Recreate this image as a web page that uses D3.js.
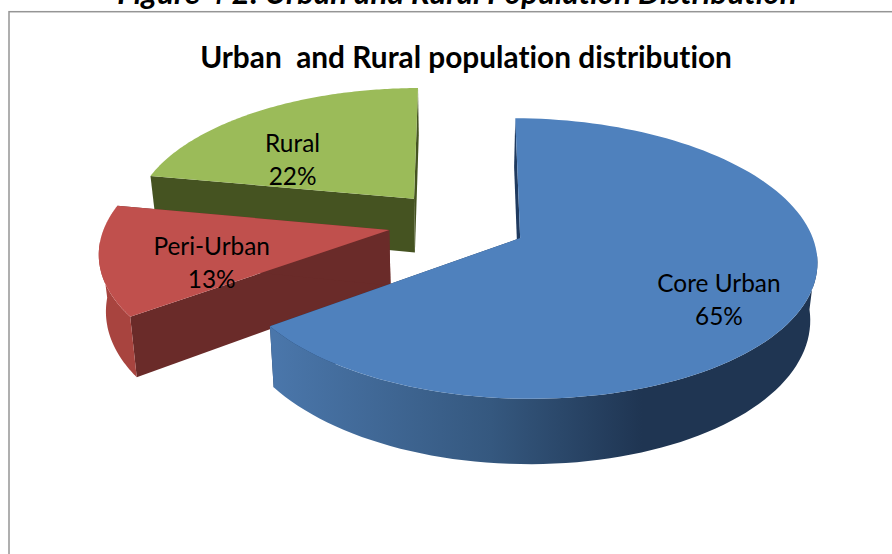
<!DOCTYPE html>
<html>
<head>
<meta charset="utf-8">
<script src="https://d3js.org/d3.v7.min.js"></script>
<style>
  html, body { margin: 0; padding: 0; background: #fff; overflow: hidden; }
  text { font-variant-ligatures: none; }
</style>
</head>
<body>
<div id="chart"></div>
<script>
// data
var categories = ["Core Urban", "Peri-Urban", "Rural"];
var shares = [65, 13, 22];

var colors = ["#4f81bd", "#c0504d", "#9bbb59"];
var edgeColors = ["#1f3a5f", "#6a2b29", "#455321"];
var rimColors = ["url(#blueRim)", "#a8443f", "#7a9346"];

var width = 892, height = 554;

// perspective disc: centre, radii, tilt, wall height, explosion
var cx = 457, cy = 223, rx = 288, ry = 133, tilt = 1 / 7, wall = 55, bottomScale = 0.98, explode = 0.243;
var leftSqueeze = 0.985;

var svg = d3
  .select("#chart")
  .append("svg")
  .attr("width", width)
  .attr("height", height);

var grad = svg
  .append("defs")
  .append("linearGradient")
  .attr("id", "blueRim")
  .attr("gradientUnits", "userSpaceOnUse")
  .attr("x1", 275).attr("x2", 815).attr("y1", 0).attr("y2", 0);
grad.append("stop").attr("offset", "0%").attr("stop-color", "#4a76aa");
grad.append("stop").attr("offset", "40%").attr("stop-color", "#35587f");
grad.append("stop").attr("offset", "68%").attr("stop-color", "#1f3552");
grad.append("stop").attr("offset", "100%").attr("stop-color", "#1f3552");

// chart frame
svg
  .append("rect")
  .attr("x", 9)
  .attr("y", 11.7)
  .attr("width", width + 20)
  .attr("height", height)
  .attr("fill", "#fff")
  .attr("stroke", "#959595")
  .attr("stroke-width", 1.5);

// caption, cut off by the top of the page
svg
  .append("text")
  .attr("x", 457)
  .attr("y", 4)
  .attr("text-anchor", "middle")
  .attr("font-family", "Lato")
  .attr("font-weight", "bold")
  .attr("font-style", "italic")
  .attr("font-size", 31.3)
  .text("Figure 4 2: Urban and Rural Population Distribution");

svg
  .append("text")
  .attr("x", 466)
  .attr("y", 67.5)
  .attr("text-anchor", "middle")
  .attr("font-family", "Lato")
  .attr("font-weight", "bold")
  .attr("font-size", 29.8)
  .style("white-space", "pre")
  .text("Urban  and Rural population distribution");

var pie = d3
  .pie()
  .sort(null)
  .startAngle((0.7 * Math.PI) / 180)
  .endAngle((359.7 * Math.PI) / 180);

var slices = pie(shares);

// disc point (radius r, angle a) of a slice, on the top or bottom plane
function project(d, r, a, low) {
  var mid = (d.startAngle + d.endAngle) / 2;
  var X = explode * Math.sin(mid) + r * Math.sin(a);
  var Y = explode * Math.cos(mid) + r * Math.cos(a);
  var s = 1 / (1 + tilt * Y);
  var px = rx * X * s, py = -ry * Y * s;
  if (px < 0) px *= leftSqueeze;
  if (low) return [cx + px * bottomScale, cy + py + wall * s];
  return [cx + px, cy + py];
}

function arcAngles(d) {
  return d3.range(0, 121).map(function (i) {
    return d.startAngle + ((d.endAngle - d.startAngle) * i) / 120;
  });
}

var line = d3.line();

// back to front: rural, peri-urban, core urban
[2, 1, 0].forEach(function (i) {
  var d = slices[i];
  var angles = arcAngles(d);
  var g = svg.append("g");

  [d.startAngle, d.endAngle].forEach(function (a) {
    g.append("path")
      .attr("d", line([project(d, 0, a), project(d, 1, a), project(d, 1, a, true), project(d, 0, a, true)]) + "Z")
      .attr("fill", edgeColors[i]);
  });

  // only the part of the rim that faces the viewer
  var front = angles.filter(function (a) { return Math.cos(a) < -0.08; });
  if (front.length > 1) {
    var rim = front
      .map(function (a) { return project(d, 1, a); })
      .concat(front.slice().reverse().map(function (a) { return project(d, 1, a, true); }));
    g.append("path").attr("d", line(rim) + "Z").attr("fill", rimColors[i]);
  }

  var top = [project(d, 0, d.startAngle)].concat(angles.map(function (a) { return project(d, 1, a); }));
  g.append("path").attr("d", line(top) + "Z").attr("fill", colors[i]);
});

// labels
var labelRadius = [0.72, 0.65, 0.55];
var labelNudge = [[-1, 14], [9, 13], [-32, 12]];
slices.forEach(function (d, i) {
  var mid = (d.startAngle + d.endAngle) / 2;
  var p = project(d, labelRadius[i], mid);
  var t = svg
    .append("text")
    .attr("text-anchor", "middle")
    .attr("font-family", "Lato")
    .attr("font-size", 24.4)
    .attr("fill", "#000");
  t.append("tspan")
    .attr("x", p[0] + labelNudge[i][0])
    .attr("y", p[1] + labelNudge[i][1] - 8)
    .text(categories[i]);
  t.append("tspan")
    .attr("x", p[0] + labelNudge[i][0])
    .attr("dy", 33)
    .text(d.data + "%");
});
</script>
</body>
</html>
